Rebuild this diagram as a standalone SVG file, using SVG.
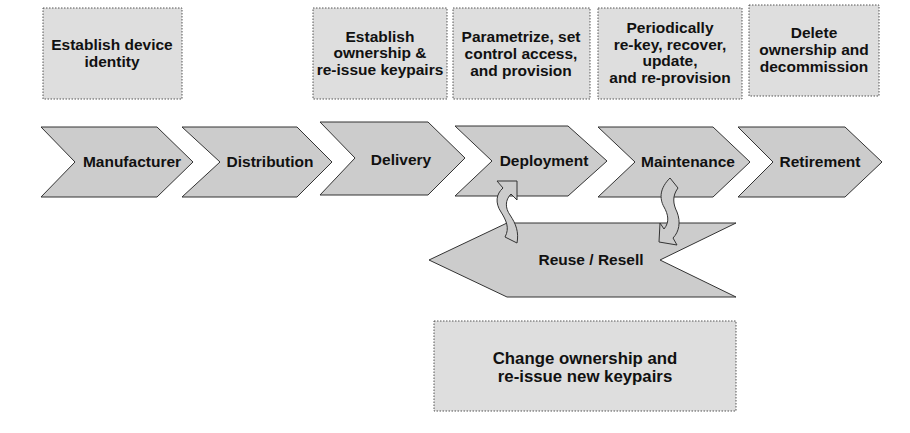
<svg xmlns="http://www.w3.org/2000/svg" width="910" height="433" viewBox="0 0 910 433">
<style>
.box{fill:#dedede;stroke:#555;stroke-width:1;stroke-dasharray:1.5,1.5}
.chev{fill:#cccccc;stroke:#333;stroke-width:1}
.arr{fill:#cccccc;stroke:#333;stroke-width:1;stroke-linejoin:round}
text{font-family:"Liberation Sans",Arial,sans-serif;font-weight:bold;font-size:15.5px;fill:#111;text-anchor:middle}
.big{font-size:16.8px}
</style>
<rect width="910" height="433" fill="#fff"/>
<g id="box-identity"><rect class="box" x="43" y="8" width="139" height="91"/>
<text x="112" y="50">Establish device</text><text x="112" y="67">identity</text></g>
<g id="box-ownership"><rect class="box" x="313" y="8" width="134" height="91"/>
<text x="380" y="42">Establish</text><text x="380" y="58">ownership &amp;</text><text x="380" y="75">re-issue keypairs</text></g>
<g id="box-parametrize"><rect class="box" x="453" y="8" width="137" height="91"/>
<text x="521" y="42">Parametrize, set</text><text x="521" y="59">control access,</text><text x="521" y="76">and provision</text></g>
<g id="box-periodically"><rect class="box" x="598" y="8" width="144" height="91"/>
<text x="670" y="33">Periodically</text><text x="670" y="50">re-key, recover,</text><text x="670" y="66">update,</text><text x="670" y="83">and re-provision</text></g>
<g id="box-delete"><rect class="box" x="749" y="5" width="130" height="91"/>
<text x="814" y="38">Delete</text><text x="814" y="55">ownership and</text><text x="814" y="72">decommission</text></g>

<g id="manufacturer"><polygon class="chev" points="41,127 157,127 193,162 157,197 41,197 75,162"/><text x="132" y="167">Manufacturer</text></g>
<g id="distribution"><polygon class="chev" points="182,127 297,127 332,162 297,197 182,197 220,162"/><text x="270" y="167">Distribution</text></g>
<g id="delivery"><polygon class="chev" points="320,122 428,122 465,158 428,195 320,195 355,158"/><text x="401" y="165">Delivery</text></g>
<g id="deployment"><polygon class="chev" points="455,126 568,126 607,161 568,196 455,196 492,161"/><text x="544" y="166">Deployment</text></g>
<g id="maintenance"><polygon class="chev" points="598,127 713,127 750,162 713,197 598,197 635,162"/><text x="688" y="167">Maintenance</text></g>
<g id="retirement"><polygon class="chev" points="738,127 845,127 882,162 845,197 738,197 773,162"/><text x="820" y="167">Retirement</text></g>

<g id="reuse"><polygon class="chev" points="429,260 507,223 736,223 660,260 736,297 507,297"/><text x="591" y="265">Reuse / Resell</text></g>

<g id="connectors">
<path class="arr" d="M497,181 L517,181 L517,200 L511,194 C505,200 505,208 510,215 C516,224 519,232 517,243 L505,237 C510,228 506,220 501,212 C495,203 496,194 503,188 Z"/>
<path class="arr" d="M670,178 L678,188 C672,196 673,204 677,212 C681,222 679,232 673,238 L677,245 L659,242 L660,223 L664,229 C670,222 668,214 664,207 C659,198 660,188 670,178 Z"/>
</g>

<g id="box-change"><rect class="box" x="434" y="321" width="302" height="90"/>
<text class="big" x="585" y="364">Change ownership and</text><text class="big" x="585" y="382">re-issue new keypairs</text></g>
</svg>
